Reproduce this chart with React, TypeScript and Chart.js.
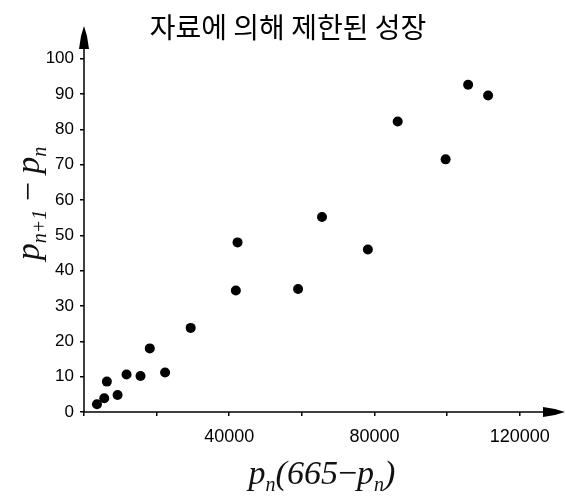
import React, { useEffect, useRef } from 'react';
import { Chart, registerables } from 'chart.js';

Chart.register(...registerables);

const chartTitle = '자료에 의해 제한된 성장';
// p_n(665 - p_n)
const xValues = [3570, 5580, 6300, 9250, 11720, 15560, 18120, 22330, 29380, 41820, 42290, 58960, 65550, 78180, 86400, 99600, 105800, 111300];
// p_{n+1} - p_n
const yValues = [2.2, 3.9, 8.6, 4.8, 10.6, 10.2, 18.0, 11.2, 23.8, 34.4, 48.0, 34.8, 55.2, 46.0, 82.2, 71.5, 92.6, 89.6];
const xTickValues = [0, 20000, 40000, 60000, 80000, 100000, 120000];
const xLabeledTicks = [40000, 80000, 120000];
const yTickValues = [0, 10, 20, 30, 40, 50, 60, 70, 80, 90, 100];
const xMax = 130000;
const yMax = 105;

type Run = { t: string; sub?: boolean; up?: boolean };
const yTitleRuns: Run[] = [{ t: 'p' }, { t: 'n+1', sub: true }, { t: ' − ', up: true }, { t: 'p' }, { t: 'n', sub: true }];
const xTitleRuns: Run[] = [{ t: 'p' }, { t: 'n', sub: true }, { t: '(665' }, { t: '−', up: true }, { t: 'p' }, { t: 'n', sub: true }, { t: ')' }];

const MATH_SIZE = 34;
function runFont(r: Run) {
  const size = r.sub ? Math.round(MATH_SIZE * 0.6) : MATH_SIZE;
  return `${r.up ? 'normal' : 'italic'} ${size}px "Liberation Serif", "DejaVu Serif", serif`;
}

function drawRuns(ctx: CanvasRenderingContext2D, runs: Run[], cx: number, cy: number) {
  let total = 0;
  const widths = runs.map((r) => {
    ctx.font = runFont(r);
    const w = ctx.measureText(r.t).width;
    total += w;
    return w;
  });
  let x = cx - total / 2;
  ctx.textBaseline = 'alphabetic';
  ctx.textAlign = 'left';
  const base = cy + MATH_SIZE * 0.3;
  runs.forEach((r, i) => {
    ctx.font = runFont(r);
    ctx.fillText(r.t, x, base + (r.sub ? MATH_SIZE * 0.2 : 0));
    x += widths[i];
  });
}

const decorPlugin = {
  id: 'decor',
  afterDraw(chart: any) {
    const { ctx, chartArea: a } = chart;
    const xs = chart.scales.x;
    const ys = chart.scales.y;
    const x0 = xs.getPixelForValue(0);
    const y0 = ys.getPixelForValue(0);
    ctx.save();
    ctx.strokeStyle = '#000';
    ctx.fillStyle = '#000';
    ctx.lineWidth = 1.5;
    ctx.beginPath();
    ctx.moveTo(x0, y0);
    ctx.lineTo(a.right - 2, y0);
    ctx.moveTo(x0, y0);
    ctx.lineTo(x0, a.top);
    ctx.stroke();
    // x arrow
    const xt = a.right + 9;
    ctx.beginPath();
    ctx.moveTo(xt, y0);
    ctx.lineTo(xt - 10, y0 - 3);
    ctx.lineTo(xt - 22, y0 - 5);
    ctx.lineTo(xt - 22, y0 + 5);
    ctx.lineTo(xt - 10, y0 + 3);
    ctx.closePath();
    ctx.fill();
    // y arrow
    const yt = a.top - 15;
    ctx.beginPath();
    ctx.moveTo(x0, yt);
    ctx.lineTo(x0 + 3, yt + 10);
    ctx.lineTo(x0 + 5, yt + 23);
    ctx.lineTo(x0 - 5, yt + 23);
    ctx.lineTo(x0 - 3, yt + 10);
    ctx.closePath();
    ctx.fill();
    // axis titles
    ctx.fillStyle = '#111';
    drawRuns(ctx, xTitleRuns, (a.left + a.right) / 2 + 2, a.bottom + 62);
    ctx.save();
    ctx.translate(29, (a.top + a.bottom) / 2 - 23);
    ctx.rotate(-Math.PI / 2);
    drawRuns(ctx, yTitleRuns, 0, 0);
    ctx.restore();
    ctx.restore();
  },
};

export default function App() {
  const ref = useRef<HTMLCanvasElement | null>(null);
  useEffect(() => {
    document.body.style.margin = '0';
    if (!ref.current) return;
    const tickFamily = '"Liberation Sans", Arial, sans-serif';
    const chart = new Chart(ref.current, {
      type: 'scatter',
      data: {
        datasets: [
          {
            data: xValues.map((x, i) => ({ x, y: yValues[i] })),
            backgroundColor: '#000',
            borderColor: '#000',
            borderWidth: 0,
            pointRadius: 5,
          },
        ],
      },
      plugins: [decorPlugin],
      options: {
        responsive: false,
        animation: false,
        layout: { padding: { left: 20, right: 10, top: 0, bottom: 0 } },
        plugins: {
          legend: { display: false },
          tooltip: { enabled: false },
          title: {
            display: true,
            text: chartTitle,
            color: '#000',
            font: { family: '"Noto Sans CJK KR", sans-serif', size: 28, weight: 'normal', lineHeight: 1 },
            padding: { top: 13, bottom: 0 },
          },
        },
        scales: {
          x: {
            type: 'linear',
            min: 0,
            max: xMax,
            border: { display: false },
            grid: { drawOnChartArea: false, drawTicks: true, tickLength: 4, color: '#000', lineWidth: 1.5 },
            afterBuildTicks: (s: any) => {
              s.ticks = xTickValues.map((value) => ({ value }));
            },
            ticks: {
              padding: 10,
              color: '#000',
              font: { family: tickFamily, size: 18 },
              maxRotation: 0,
              minRotation: 0,
              autoSkip: false,
              callback: (v: any) => {
                const n = Math.round(Number(v));
                return xLabeledTicks.indexOf(n) >= 0 ? String(n) : '';
              },
            },
            afterFit: (s: any) => {
              s.height = 85;
              s.paddingLeft = 0;
              s.paddingRight = 0;
            },
          },
          y: {
            type: 'linear',
            min: 0,
            max: yMax,
            border: { display: false },
            grid: { drawOnChartArea: false, drawTicks: true, tickLength: 4, color: '#000', lineWidth: 1.5 },
            afterBuildTicks: (s: any) => {
              s.ticks = yTickValues.map((value) => ({ value }));
            },
            ticks: {
              padding: 6,
              color: '#000',
              font: { family: tickFamily, size: 17 },
              autoSkip: false,
              callback: (v: any) => String(v),
            },
            afterFit: (s: any) => {
              s.width = 64;
              s.paddingTop = 0;
              s.paddingBottom = 0;
            },
          },
        },
      },
    } as any);
    return () => chart.destroy();
  }, []);
  return (
    <div style={{ width: 566, height: 497 }}>
      <canvas ref={ref} width={566} height={497} />
    </div>
  );
}
